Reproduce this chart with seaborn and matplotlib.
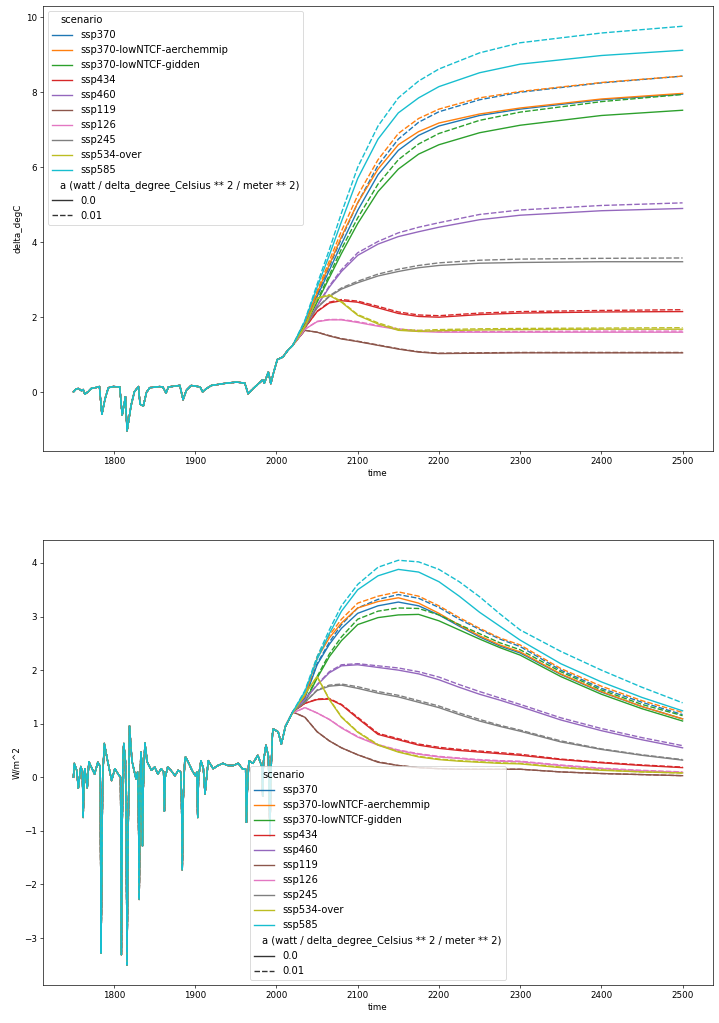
import matplotlib.pyplot as plt
import pandas as pd
import seaborn as sns

scenarios = [
    "ssp370", "ssp370-lowNTCF-aerchemmip", "ssp370-lowNTCF-gidden", "ssp434", "ssp460",
    "ssp119", "ssp126", "ssp245", "ssp534-over", "ssp585",
]
a_values = [0.0, 0.01]
a_col = "a (watt / delta_degree_Celsius ** 2 / meter ** 2)"

# historical part, shared by every run
hist_temp_years = [1750, 1753, 1756, 1760, 1762, 1764, 1768, 1772, 1777, 1782, 1785, 1789, 1793,
                   1799, 1807, 1810, 1814, 1816, 1821, 1825, 1830, 1832, 1836, 1840, 1844, 1856,
                   1860, 1864, 1867, 1881, 1885, 1889, 1895, 1906, 1909, 1914, 1920, 1938, 1951,
                   1961, 1965, 1971, 1980, 1983, 1985, 1990, 1993, 1996, 2001, 2008, 2014]
hist_temp = [0.01, 0.08, 0.10, 0.04, 0.07, -0.05, 0.01, 0.10, 0.12, 0.15, -0.59, -0.17, 0.12,
             0.15, 0.14, -0.61, -0.12, -1.03, -0.35, 0.01, 0.15, -0.32, -0.37, 0.00, 0.12, 0.15,
             0.14, -0.02, 0.14, 0.18, -0.20, 0.05, 0.18, 0.14, 0.01, 0.10, 0.18, 0.24, 0.27,
             0.24, -0.04, 0.09, 0.27, 0.33, 0.24, 0.54, 0.23, 0.49, 0.87, 0.94, 1.12]

hist_flux_years = [1750, 1751, 1754, 1756, 1759, 1761, 1762, 1763, 1764, 1767, 1769, 1772, 1776,
                   1780, 1783, 1784, 1785, 1786, 1788, 1792, 1797, 1801, 1805, 1808, 1809, 1810,
                   1811, 1812, 1814, 1815, 1816, 1817, 1819, 1822, 1827, 1829, 1830, 1831, 1832,
                   1833, 1834, 1835, 1836, 1838, 1841, 1846, 1850, 1854, 1858, 1861, 1862, 1863,
                   1866, 1870, 1875, 1879, 1882, 1883, 1884, 1885, 1887, 1888, 1892, 1896, 1900,
                   1902, 1903, 1904, 1907, 1910, 1912, 1916, 1922, 1928, 1934, 1940, 1947, 1953,
                   1958, 1962, 1963, 1964, 1966, 1971, 1977, 1982, 1983, 1984, 1987, 1990, 1991,
                   1992, 1993, 1995, 1996, 2002, 2006, 2011, 2016]
hist_flux = [0.00, 0.26, 0.13, -0.20, 0.20, 0.10, -0.75, 0.00, 0.16, -0.20, 0.29, 0.19, 0.06,
             0.28, 0.20, -3.28, -1.50, 0.00, 0.63, 0.31, -0.06, 0.16, 0.06, 0.00, -3.31, -1.00,
             0.40, 0.63, 0.30, -1.00, -3.50, -1.50, 0.96, 0.31, -0.03, 0.10, -0.50, -2.28, -0.20,
             0.47, 0.30, -1.28, -0.20, 0.64, 0.28, 0.13, 0.19, 0.06, 0.16, 0.10, -0.63, 0.00,
             0.19, 0.13, 0.03, 0.13, 0.10, -0.30, -1.73, -0.50, 0.30, 0.38, 0.26, 0.13, 0.03,
             0.10, -0.75, 0.00, 0.31, 0.16, -0.31, 0.31, 0.16, 0.22, 0.26, 0.22, 0.22, 0.26,
             0.16, 0.15, -0.84, -0.30, 0.31, 0.26, 0.41, 0.20, -0.35, 0.30, 0.60, 0.40, -0.30,
             -1.10, 0.00, 0.80, 0.90, 0.85, 0.62, 0.95, 1.10]

# projections
temp_years = [2020, 2035, 2050, 2065, 2080, 2100, 2125, 2150, 2175, 2200, 2250, 2300, 2400, 2500]
temp_a0 = {
    "ssp370": [1.25, 1.80, 2.55, 3.25, 3.95, 4.85, 5.80, 6.45, 6.85, 7.10, 7.38, 7.55, 7.80, 7.95],
    "ssp370-lowNTCF-aerchemmip": [1.25, 1.85, 2.65, 3.40, 4.15, 5.05, 5.95, 6.60, 6.95, 7.18, 7.42, 7.58, 7.82, 7.97],
    "ssp370-lowNTCF-gidden": [1.25, 1.76, 2.40, 3.05, 3.70, 4.50, 5.35, 5.95, 6.35, 6.60, 6.92, 7.12, 7.38, 7.52],
    "ssp434": [1.25, 1.72, 2.15, 2.38, 2.44, 2.40, 2.25, 2.10, 2.02, 2.00, 2.07, 2.11, 2.14, 2.15],
    "ssp460": [1.25, 1.73, 2.30, 2.80, 3.22, 3.65, 3.95, 4.15, 4.28, 4.40, 4.60, 4.72, 4.84, 4.90],
    "ssp119": [1.25, 1.65, 1.60, 1.50, 1.42, 1.35, 1.25, 1.15, 1.07, 1.03, 1.04, 1.05, 1.05, 1.05],
    "ssp126": [1.25, 1.68, 1.88, 1.93, 1.93, 1.86, 1.76, 1.67, 1.62, 1.60, 1.60, 1.60, 1.60, 1.60],
    "ssp245": [1.25, 1.74, 2.25, 2.55, 2.75, 2.92, 3.10, 3.22, 3.32, 3.38, 3.44, 3.46, 3.48, 3.48],
    "ssp534-over": [1.25, 1.75, 2.50, 2.58, 2.40, 2.05, 1.82, 1.65, 1.62, 1.64, 1.66, 1.67, 1.68, 1.68],
    "ssp585": [1.25, 1.90, 2.80, 3.65, 4.55, 5.70, 6.75, 7.45, 7.85, 8.15, 8.52, 8.75, 8.98, 9.12],
}
temp_a001 = {
    "ssp370": [1.25, 1.82, 2.60, 3.35, 4.10, 5.05, 6.05, 6.75, 7.20, 7.48, 7.80, 8.00, 8.25, 8.43],
    "ssp370-lowNTCF-aerchemmip": [1.25, 1.87, 2.70, 3.50, 4.30, 5.25, 6.20, 6.90, 7.30, 7.55, 7.85, 8.02, 8.26, 8.43],
    "ssp370-lowNTCF-gidden": [1.25, 1.78, 2.45, 3.12, 3.82, 4.65, 5.55, 6.20, 6.62, 6.90, 7.25, 7.47, 7.75, 7.94],
    "ssp434": [1.25, 1.72, 2.16, 2.40, 2.47, 2.43, 2.29, 2.14, 2.06, 2.04, 2.11, 2.15, 2.18, 2.20],
    "ssp460": [1.25, 1.73, 2.31, 2.83, 3.27, 3.72, 4.02, 4.25, 4.40, 4.52, 4.74, 4.86, 4.98, 5.05],
    "ssp119": [1.25, 1.65, 1.60, 1.51, 1.43, 1.36, 1.26, 1.16, 1.08, 1.04, 1.05, 1.06, 1.06, 1.06],
    "ssp126": [1.25, 1.68, 1.89, 1.94, 1.94, 1.88, 1.78, 1.69, 1.64, 1.62, 1.62, 1.62, 1.63, 1.63],
    "ssp245": [1.25, 1.74, 2.26, 2.57, 2.78, 2.96, 3.15, 3.28, 3.38, 3.45, 3.52, 3.55, 3.57, 3.58],
    "ssp534-over": [1.25, 1.75, 2.51, 2.60, 2.42, 2.07, 1.85, 1.68, 1.65, 1.67, 1.69, 1.70, 1.71, 1.72],
    "ssp585": [1.25, 1.92, 2.88, 3.80, 4.78, 6.00, 7.10, 7.85, 8.30, 8.62, 9.05, 9.32, 9.58, 9.76],
}

flux_years = [2020, 2035, 2050, 2065, 2080, 2100, 2125, 2150, 2175, 2200, 2225, 2250, 2275, 2300,
              2350, 2400, 2450, 2500]
flux_a0 = {
    "ssp370": [1.22, 1.48, 2.10, 2.48, 2.78, 3.06, 3.20, 3.27, 3.20, 3.03, 2.82, 2.62, 2.45, 2.32, 1.92, 1.59, 1.32, 1.09],
    "ssp370-lowNTCF-aerchemmip": [1.22, 1.52, 2.22, 2.60, 2.88, 3.16, 3.28, 3.35, 3.25, 3.06, 2.84, 2.64, 2.47, 2.34, 1.93, 1.60, 1.32, 1.09],
    "ssp370-lowNTCF-gidden": [1.22, 1.40, 1.85, 2.25, 2.55, 2.85, 2.98, 3.03, 3.04, 2.92, 2.75, 2.58, 2.42, 2.28, 1.88, 1.55, 1.28, 1.05],
    "ssp434": [1.22, 1.38, 1.45, 1.46, 1.35, 1.10, 0.80, 0.70, 0.60, 0.54, 0.50, 0.47, 0.44, 0.41, 0.33, 0.27, 0.22, 0.18],
    "ssp460": [1.22, 1.45, 1.72, 1.95, 2.08, 2.10, 2.05, 2.00, 1.93, 1.82, 1.68, 1.55, 1.44, 1.32, 1.07, 0.87, 0.70, 0.55],
    "ssp119": [1.22, 1.12, 0.85, 0.68, 0.55, 0.42, 0.28, 0.22, 0.18, 0.16, 0.15, 0.15, 0.15, 0.15, 0.10, 0.07, 0.05, 0.03],
    "ssp126": [1.20, 1.30, 1.20, 1.08, 0.92, 0.75, 0.60, 0.50, 0.43, 0.38, 0.35, 0.32, 0.30, 0.29, 0.22, 0.16, 0.12, 0.09],
    "ssp245": [1.22, 1.40, 1.62, 1.70, 1.72, 1.66, 1.57, 1.50, 1.40, 1.30, 1.17, 1.05, 0.95, 0.86, 0.66, 0.52, 0.41, 0.32],
    "ssp534-over": [1.20, 1.55, 1.88, 1.45, 1.12, 0.84, 0.60, 0.47, 0.38, 0.33, 0.30, 0.28, 0.26, 0.25, 0.18, 0.13, 0.10, 0.08],
    "ssp585": [1.22, 1.60, 2.20, 2.68, 3.10, 3.50, 3.76, 3.88, 3.83, 3.65, 3.38, 3.08, 2.82, 2.56, 2.12, 1.78, 1.49, 1.24],
}
flux_a001 = {
    "ssp370": [1.22, 1.49, 2.12, 2.52, 2.85, 3.16, 3.32, 3.41, 3.34, 3.17, 2.95, 2.76, 2.58, 2.44, 2.00, 1.66, 1.40, 1.17],
    "ssp370-lowNTCF-aerchemmip": [1.22, 1.53, 2.25, 2.65, 2.95, 3.25, 3.38, 3.46, 3.38, 3.20, 2.98, 2.78, 2.60, 2.47, 2.03, 1.70, 1.43, 1.21],
    "ssp370-lowNTCF-gidden": [1.22, 1.41, 1.88, 2.30, 2.62, 2.95, 3.10, 3.16, 3.15, 3.03, 2.85, 2.68, 2.51, 2.38, 1.97, 1.63, 1.36, 1.15],
    "ssp434": [1.22, 1.38, 1.46, 1.47, 1.36, 1.12, 0.82, 0.72, 0.62, 0.56, 0.52, 0.49, 0.46, 0.43, 0.34, 0.28, 0.23, 0.19],
    "ssp460": [1.22, 1.45, 1.73, 1.97, 2.10, 2.12, 2.08, 2.04, 1.97, 1.87, 1.73, 1.60, 1.48, 1.36, 1.11, 0.91, 0.74, 0.59],
    "ssp119": [1.22, 1.12, 0.85, 0.68, 0.55, 0.42, 0.29, 0.22, 0.18, 0.16, 0.15, 0.15, 0.15, 0.15, 0.10, 0.07, 0.05, 0.03],
    "ssp126": [1.20, 1.30, 1.20, 1.08, 0.93, 0.76, 0.61, 0.51, 0.44, 0.39, 0.36, 0.33, 0.31, 0.30, 0.23, 0.17, 0.13, 0.10],
    "ssp245": [1.22, 1.40, 1.63, 1.72, 1.74, 1.69, 1.60, 1.53, 1.43, 1.33, 1.20, 1.08, 0.97, 0.88, 0.68, 0.53, 0.42, 0.33],
    "ssp534-over": [1.20, 1.55, 1.88, 1.46, 1.13, 0.85, 0.61, 0.48, 0.39, 0.34, 0.31, 0.29, 0.27, 0.26, 0.19, 0.14, 0.10, 0.08],
    "ssp585": [1.22, 1.62, 2.25, 2.75, 3.20, 3.60, 3.92, 4.05, 4.02, 3.88, 3.65, 3.37, 3.05, 2.75, 2.35, 2.00, 1.68, 1.39],
}

rows = []
for a, temp, flux in [(0.0, temp_a0, flux_a0), (0.01, temp_a001, flux_a001)]:
    for s in scenarios:
        for t, v in zip(hist_temp_years + temp_years, hist_temp + temp[s]):
            rows.append({"time": t, "scenario": s, a_col: a, "variable": "delta_degC", "value": v})
        for t, v in zip(hist_flux_years + flux_years, hist_flux + flux[s]):
            rows.append({"time": t, "scenario": s, a_col: a, "variable": "W/m^2", "value": v})
df = pd.DataFrame(rows)

# ticks/labels a bit over 10 pt, legend noticeably larger (12 pt) as in the reference
plt.rcParams.update({
    "font.size": 10.5,
    "legend.fontsize": 12,
    "legend.title_fontsize": 12,
    "lines.linewidth": 1.65,
})

fig, (ax1, ax2) = plt.subplots(2, 1, figsize=(719 / 60, 1023 / 60), dpi=60)
fig.subplots_adjust(left=0.0598, right=0.9917, top=0.9941, bottom=0.0371, hspace=0.2)

for ax, var, loc in [(ax1, "delta_degC", "upper left"), (ax2, "W/m^2", "lower center")]:
    sub = df[df["variable"] == var]
    sns.lineplot(data=sub, x="time", y="value", hue="scenario", style=a_col,
                 hue_order=scenarios, style_order=a_values, ax=ax)
    ax.set_ylabel(var)
    ax.set_xlabel("time")
    sns.move_legend(ax, loc)
    # move_legend rebuilds the legend; pull the two subtitles back to the left
    leg = ax.get_legend()
    for column in leg._legend_handle_box.get_children():
        for entry in column.get_children():
            handle_area, text_area = entry.get_children()
            if text_area.get_text() in ("scenario", a_col):
                handle_area.set_width(0)

fig.savefig("out.png", dpi=60)
